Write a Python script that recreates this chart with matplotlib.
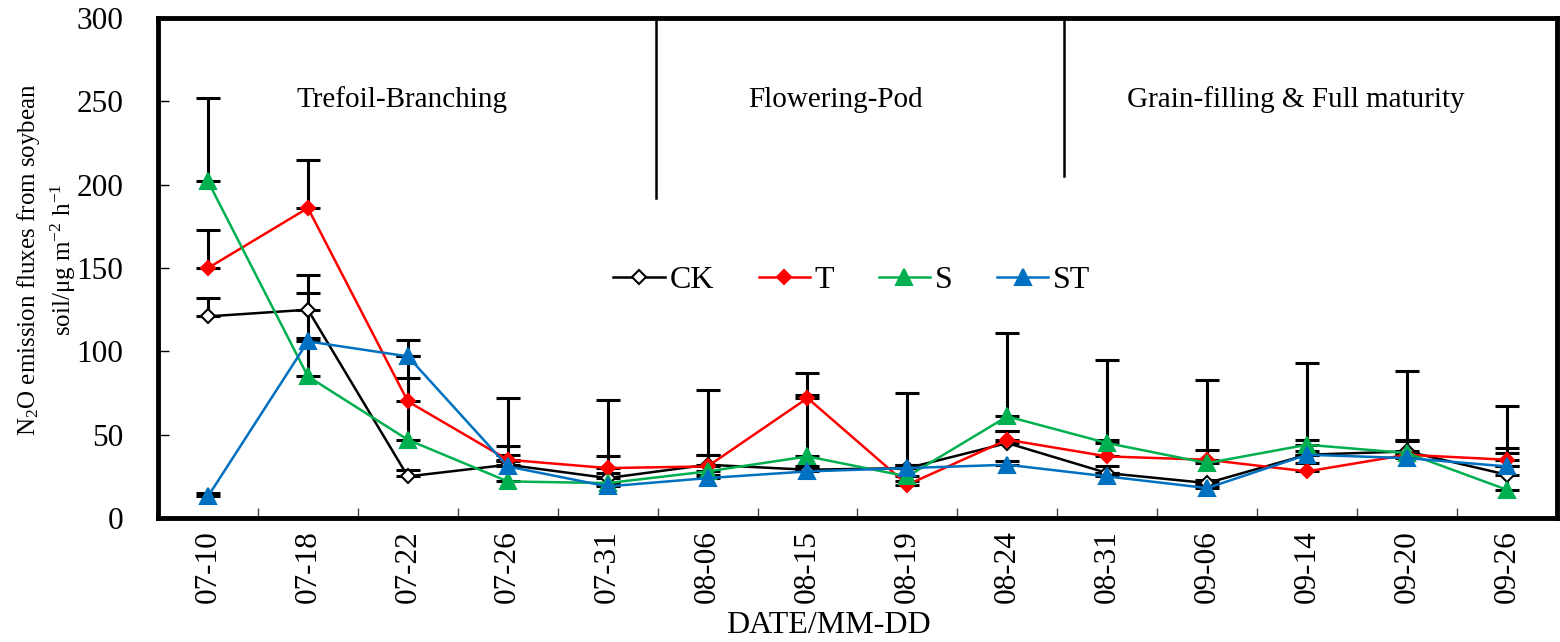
import numpy as np
import matplotlib.pyplot as plt

plt.rcParams['font.family'] = ['Liberation Serif', 'DejaVu Serif']
plt.rcParams['mathtext.fontset'] = 'custom'
plt.rcParams['mathtext.rm'] = 'Liberation Serif'
plt.rcParams['mathtext.it'] = 'Liberation Serif:italic'

dates = ['07-10', '07-18', '07-22', '07-26', '07-31', '08-06', '08-15',
         '08-19', '08-24', '08-31', '09-06', '09-14', '09-20', '09-26']

# N2O fluxes (ug m-2 h-1) per treatment
ck = [121, 125, 25, 32, 24, 32, 29, 30, 45, 27, 21, 38, 40, 26]
t = [150, 186, 70, 35, 30, 31, 72, 20, 47, 37, 35, 28, 38, 35]
s = [202, 85, 47, 22, 21, 28, 37, 25, 61, 45, 33, 44, 39, 17]
st = [13, 106, 97, 31, 19, 24, 28, 30, 32, 25, 18, 38, 36, 31]

# upper error bars
ck_err = [11, 21, 4, 6, 3, 6, 2, 2, 7, 4, 2, 9, 7, 5]
t_err = [23, 29, 14, 8, 7, 7, 2, 2, 5, 10, 6, 5, 8, 7]
s_err = [50, 50, 50, 50, 50, 49, 50, 50, 50, 50, 50, 49, 49, 50]
st_err = [2, 2, 10, 3, 2, 2, 2, 2, 2, 2, 2, 2, 2, 8]

stages = ['Trefoil-Branching', 'Flowering-Pod', 'Grain-filling & Full maturity']
stage_x = [1.94, 6.28, 10.89]
divider_x = [4.48, 8.57]
divider_bottom = [192, 205]

x = np.arange(len(dates))

fig = plt.figure(figsize=(15.6, 6.42), dpi=100)
ax = fig.add_axes([0.1013, 0.193, 0.8967, 0.779])

series = [
    (ck, ck_err, 'CK', 'black', 'D', 'white', 7.5),
    (t, t_err, 'T', '#FF0000', 'D', '#FF0000', 7.5),
    (s, s_err, 'S', '#00B050', '^', '#00B050', 11),
    (st, st_err, 'ST', '#0070C0', '^', '#0070C0', 11),
]

for vals, err, name, col, mk, face, ms in series:
    ax.errorbar(x, vals, yerr=[np.zeros(len(err)), err], fmt='none',
                ecolor='black', elinewidth=2.2, capsize=8.5, capthick=2.2,
                zorder=2)

for vals, err, name, col, mk, face, ms in series:
    ax.plot(x, vals, color=col, lw=1.8, marker=mk, ms=ms,
            markerfacecolor=face, markeredgecolor=col,
            markeredgewidth=1.5, label=name, zorder=3)

# growth stage dividers and labels
for dx, db in zip(divider_x, divider_bottom):
    ax.plot([dx, dx], [db, 300], color='black', lw=1.8, zorder=1)
for sx, name in zip(stage_x, stages):
    ax.text(sx, 251, name, ha='center', va='center', fontsize=21)

ax.set_xlim(-0.5, len(dates) - 0.5)
ax.set_ylim(0, 300)
ax.set_yticks(np.arange(0, 301, 50))
ax.set_xticks(x)
ax.set_xticklabels(dates, rotation=90, fontsize=22.5)
ax.set_xticks(np.arange(-0.5, len(dates), 1), minor=True)
ax.tick_params(axis='x', which='major', length=0, pad=9)
ax.tick_params(axis='x', which='minor', direction='in', length=7,
               width=1, color='#444444')
ax.tick_params(axis='y', direction='in', length=8, width=1,
               labelsize=22.5, pad=25)

for sp in ax.spines.values():
    sp.set_linewidth(3.5)

ax.set_xlabel('DATE/MM-DD', fontsize=23)
ax.xaxis.set_label_coords(0.479, -0.186)
ax.set_ylabel('N$_2$O emission fluxes from soybean\n'
              'soil/\u03bcg m$^{-2}$ h$^{-1}$', fontsize=18,
              linespacing=1.3)
ax.yaxis.set_label_coords(-0.057, 0.516)

ax.legend(loc='center', bbox_to_anchor=(0.496, 0.476), ncol=4, frameon=False,
          fontsize=23, handlelength=1.6, columnspacing=1.4,
          handletextpad=0.15)

fig.savefig('out.png', dpi=100)
